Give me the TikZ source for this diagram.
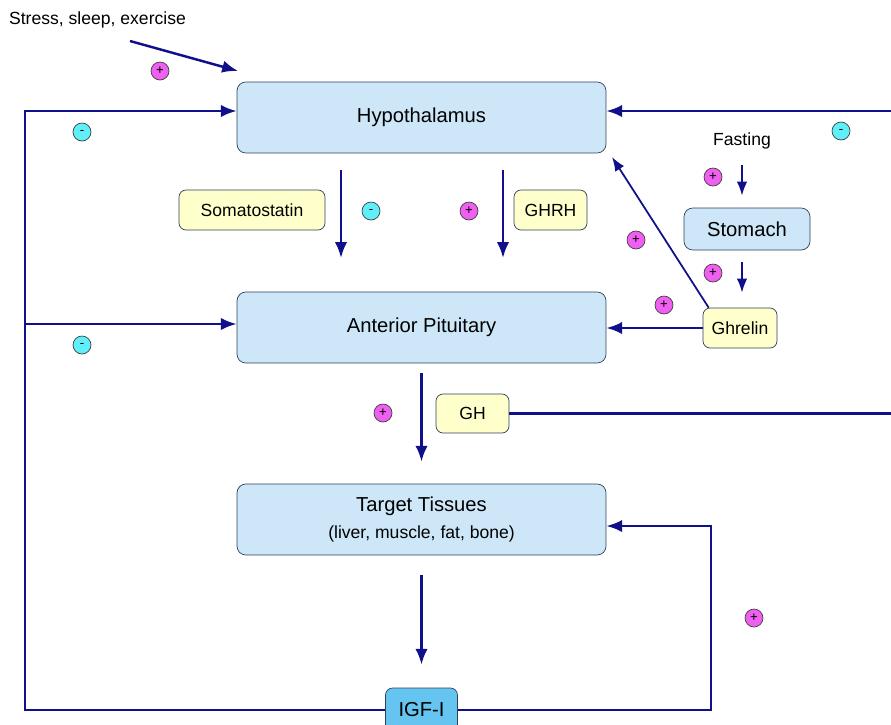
\documentclass[tikz,border=0pt]{standalone}
\usepackage{fontspec}
\setmainfont{Liberation Sans}
\usetikzlibrary{arrows.meta}
\definecolor{navy}{HTML}{10108A}
\definecolor{boxline}{HTML}{30405A}
\definecolor{organblue}{HTML}{CDE7F8}
\definecolor{hormoneyellow}{HTML}{FFFFCC}
\definecolor{igfblue}{HTML}{66C4F0}
\definecolor{plusmagenta}{HTML}{F060F0}
\definecolor{minuscyan}{HTML}{60EEF8}

\begin{document}
\begin{tikzpicture}[x=0.02cm,y=-0.02cm,font=\fontsize{10}{12}\selectfont]
            \tikzstyle{organ}=[draw=boxline,fill=organblue,rounded corners=5pt,minimum width=7.38cm,minimum height=1.42cm,font=\fontsize{11.5}{14}\selectfont]
            \tikzstyle{hormone}=[draw=boxline,fill=hormoneyellow,rounded corners=4pt,minimum height=0.8cm]
            \tikzstyle{plus}=[circle,draw=black!75,fill=plusmagenta,inner sep=0pt,minimum size=0.36cm,font=\fontsize{7.5}{7.5}\selectfont]
            \tikzstyle{minus}=[circle,draw=black!75,fill=minuscyan,inner sep=0pt,minimum size=0.36cm,font=\fontsize{7.5}{7.5}\selectfont]
            \tikzstyle{flow}=[draw=navy,line width=1.4pt,-{Latex[length=9pt,width=7pt]}]
            \tikzstyle{thinflow}=[draw=navy,line width=1pt,-{Latex[length=8pt,width=6pt]}]
            \clip (0,0) rectangle (891,724);
            % boxes
            \node[organ] (hyp) at (421.5,117.5) {Hypothalamus};
            \node[organ] (pit) at (421.5,327.5) {Anterior Pituitary};
            \node[organ,align=center] (tis) at (421.5,519.5) {Target Tissues\\[1pt]{\fontsize{10}{12}\selectfont (liver, muscle, fat, bone)}};
            \node[organ,minimum width=2.52cm,minimum height=0.84cm] (sto) at (747,229) {Stomach};
            \node[hormone,minimum width=1.48cm] (ghr) at (740,328) {Ghrelin};
            \node[hormone,minimum width=2.92cm] (som) at (252,210) {Somatostatin};
            \node[hormone,minimum width=1.46cm] (ghrh) at (550.5,210) {GHRH};
            \node[hormone,minimum width=1.46cm,minimum height=0.78cm] (gh) at (472.5,413.5) {GH};
            \node[hormone,fill=igfblue,minimum width=1.44cm,minimum height=0.88cm,font=\fontsize{11.5}{14}\selectfont] (igf) at (421.5,710) {IGF-I};
            \node (stress) at (97.5,20) {Stress, sleep, exercise};
            \node (fast) at (742,141) {Fasting};
            % free ends
            \coordinate (s1) at (130,41);
            \coordinate (s2) at (238,71);
            \coordinate (L1) at (25,111);
            \coordinate (L2) at (25,324);
            \coordinate (R1) at (896,111);
            \coordinate (R2) at (711,526);
            \coordinate (h1) at (612,157);
            \coordinate (som1) at (341,170);
            \coordinate (som2) at (341,258);
            \coordinate (ghrh1) at (503,170);
            \coordinate (ghrh2) at (503,258);
            % arrows
            \draw[flow] (s1) -- (s2);
            \draw[flow] (igf.west) -| (L1) -- (L1 -| hyp.west);
            \draw[flow] (L2) -- (L2 -| pit.west);
            \draw[flow] (gh.east) -| (R1) -- (R1 -| hyp.east);
            \draw[flow] (igf.east) -| (R2) -- (R2 -| tis.east);
            \draw[flow] (som1) -- (som2);
            \draw[flow] (ghrh1) -- (ghrh2);
            \draw[flow,shorten <=0.2cm,shorten >=0.44cm] (pit.south) -- (tis.north);
            \draw[flow,shorten <=0.4cm,shorten >=0.46cm] (tis.south) -- (igf.north);
            \draw[flow] (ghr.west) -- (ghr.west -| pit.east);
            \draw[thinflow] ([xshift=0.12cm]ghr.north west) -- (h1);
            \draw[thinflow,shorten <=0.2cm,shorten >=0.24cm] (fast.south) -- (fast.south |- sto.north);
            \draw[thinflow,shorten <=0.24cm,shorten >=0.3cm] (sto.south -| fast.south) -- (ghr.north -| fast.south);
            % signs
            \node[plus] (p1) at (160,71) {+};
            \node[minus] (m1) at (82,132) {-};
            \node[minus] (m2) at (371,211) {-};
            \node[plus] (p2) at (469,211) {+};
            \node[minus] (m3) at (841,131) {-};
            \node[plus] (p3) at (713,177) {+};
            \node[plus] (p4) at (636,240) {+};
            \node[plus] (p5) at (713,273) {+};
            \node[plus] (p6) at (664,305) {+};
            \node[minus] (m4) at (82,345) {-};
            \node[plus] (p7) at (383,413) {+};
            \node[plus] (p8) at (754,618) {+};
\end{tikzpicture}
\end{document}
